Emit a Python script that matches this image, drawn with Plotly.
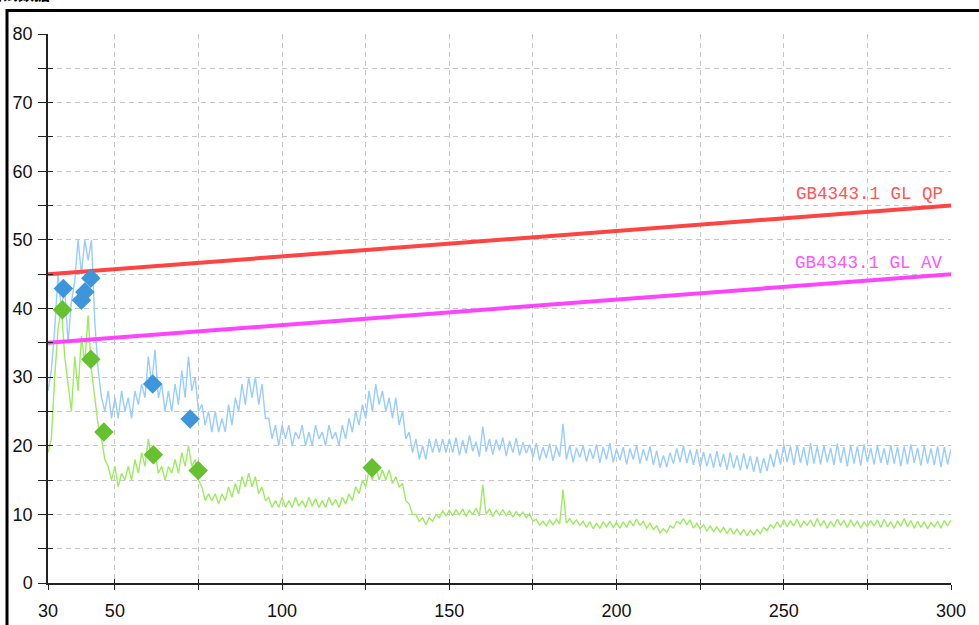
import plotly.graph_objects as go

# ---------------- data ----------------
freq = list(range(30, 301))  # MHz, 1 MHz sampling

peak_trace = [
    28, 31, 37, 45, 40, 43, 35, 41, 44, 50,
    45, 50, 47, 50, 38, 31, 27, 25, 28, 24,
    27, 24, 28, 25, 27, 24, 28, 26, 29, 27,
    33, 29, 34, 27, 29, 25, 28, 25, 29, 26,
    31, 27, 33, 28, 30, 25, 26, 23, 25, 22,
    25, 22, 24, 22, 26, 23, 27, 25, 29, 26,
    30, 27, 30, 26, 29, 24, 24, 21, 23, 20,
    23, 21, 23, 20, 22, 21, 23, 20, 22, 20,
    23, 21, 22, 20, 23, 21, 22, 20, 23, 21,
    24, 22, 25, 23, 26, 24, 28, 25, 29, 26,
    28, 25, 27, 24, 27, 23, 25, 21, 22, 19,
    21, 18, 20, 18, 21, 19, 21, 19, 21, 19, 21,
    19.0, 21.2, 18.6, 20.8, 18.9, 21.5, 19.2, 20.6, 18.4, 22.8,
    19.1, 21.0, 18.7, 20.9, 19.3, 21.2, 18.5, 20.7, 19.0, 21.1,
    18.6, 20.5, 18.9, 20.2, 18.3, 20.4, 17.9, 19.8, 18.2, 20.3,
    17.8, 19.9, 18.4, 23.2, 18.0, 20.1, 17.6, 19.7, 18.3, 20.0,
    17.7, 19.6, 18.1, 20.2, 17.5, 19.8, 18.0, 20.4, 17.6, 19.5,
    17.9, 19.8, 17.3, 19.6, 18.0, 20.1, 17.4, 19.5, 17.8, 19.9,
    17.2, 19.3, 16.8, 18.6, 16.9, 19.0, 17.4, 19.6, 17.6, 20.0,
    17.5, 19.4, 17.2, 19.5, 16.9, 19.1, 17.0, 18.9, 16.8, 19.2,
    16.9, 18.8, 16.5, 19.0, 16.7, 18.6, 16.4, 18.9, 16.6, 18.5,
    16.2, 18.4, 16.0, 18.2, 16.3, 18.8, 16.9, 19.5, 17.3, 20.2,
    17.6, 19.9, 17.2, 20.1, 17.5, 19.8, 17.1, 20.4, 17.4, 19.9,
    17.3, 20.0, 17.6, 19.7, 17.2, 20.3, 17.5, 19.8, 17.0, 20.1,
    17.4, 19.9, 17.1, 20.2, 17.6, 19.7, 17.3, 20.0, 17.5, 19.6,
    17.2, 20.1, 17.4, 19.8, 17.0, 19.9, 17.3, 20.2, 17.5, 19.7,
    17.1, 20.0, 17.4, 19.6, 17.2, 19.9, 16.9, 19.8, 17.3, 19.5,
]

avg_trace = [
    19, 21, 30, 37, 40, 33, 29, 25, 33, 28,
    36, 32, 39, 31, 27, 23, 21, 18, 17, 15,
    17, 14, 16, 15, 17, 15, 18, 16, 19, 17,
    21, 18, 19, 16, 17, 15, 17, 16, 18, 16,
    19, 17, 20, 17, 18, 15, 14, 12, 13, 12,
    13, 11.5, 13, 12, 14, 12.5, 14.5, 13, 15.5, 14,
    16, 14, 15.5, 13, 14, 12, 12.5, 11, 12, 11,
    12.5, 11, 12, 11, 12.5, 11.2, 12, 11, 12.5, 11.2,
    12.3, 11, 12, 11, 12.5, 11.3, 12.2, 11, 12.5, 11.5,
    13, 12, 14, 13, 15, 14, 16.5, 15, 17, 15,
    16.5, 15, 16.5, 14.5, 15.5, 14, 14.5, 12, 11.5, 10,
    10, 9, 9.5, 8.5, 9.5, 9, 10, 9.5, 10.5, 9.8, 10.6,
    9.8, 10.7, 9.9, 10.8, 9.7, 10.6, 10.0, 10.9, 9.8, 14.3,
    10.0, 10.8, 9.7, 10.6, 9.9, 10.7, 9.8, 10.5, 9.6, 10.4,
    9.7, 10.3, 9.5, 10.1, 9.0, 9.3, 8.4, 9.0, 8.3, 9.2,
    8.5, 9.3, 8.6, 13.6, 8.7, 9.4, 8.6, 9.2, 8.4, 9.0,
    8.1, 8.9, 7.9, 8.7, 8.0, 8.9, 8.2, 9.0, 8.1, 8.8,
    8.0, 8.9, 8.1, 9.1, 8.3, 9.3, 8.4, 9.0, 8.0, 8.7,
    7.8, 8.3, 7.3, 7.9, 7.4, 8.3, 8.0, 9.0, 8.6, 9.4,
    8.5, 9.2, 8.0, 8.7, 7.9, 8.5, 7.6, 8.3, 7.5, 8.2,
    7.4, 8.1, 7.2, 8.0, 7.1, 7.9, 7.0, 7.8, 6.9, 7.7,
    7.0, 7.8, 7.2, 8.1, 7.6, 8.5, 8.0, 8.9, 8.1, 9.2,
    8.2, 9.1, 8.3, 9.3, 8.1, 9.0, 8.4, 9.2, 8.2, 9.4,
    8.3, 9.1, 8.0, 9.0, 8.2, 9.3, 8.4, 9.1, 8.1, 9.2,
    8.3, 9.0, 8.0, 8.9, 8.2, 9.1, 8.3, 9.2, 8.1, 9.3,
    8.2, 8.9, 8.0, 9.0, 8.3, 9.4, 8.2, 9.1, 8.0, 9.0,
    8.1, 8.9, 7.9, 8.8, 8.2, 9.0, 8.0, 9.1, 8.3, 9.2,
]

qp_marker_freq = [34.6, 40.0, 41.0, 42.8, 61.3, 72.5]
qp_marker_val = [42.9, 41.2, 42.4, 44.4, 29.0, 23.9]

av_marker_freq = [34.3, 42.8, 46.7, 61.5, 74.9, 126.9]
av_marker_val = [39.8, 32.6, 22.0, 18.7, 16.4, 16.8]

limit_freq = [30, 300]
limit_qp = [45, 55]
limit_av = [35, 45]
limit_qp_label = "GB4343.1 GL QP"
limit_av_label = "GB4343.1 GL AV"

x_tickvals = [30, 50, 75, 100, 125, 150, 175, 200, 225, 250, 275, 300]
x_ticktext = ["30", "50", "", "100", "", "150", "", "200", "", "250", "", "300"]
y_tickvals = [0, 5, 10, 15, 20, 25, 30, 35, 40, 45, 50, 55, 60, 65, 70, 75, 80]
y_ticktext = ["0", "", "10", "", "20", "", "30", "", "40", "", "50", "", "60", "", "70", "", "80"]
title_text = "测试数据"

# ---------------- figure ----------------
W, H = 979, 625
ML, MR, MT, MB = 48, 28, 34, 42
PW, PH = W - ML - MR, H - MT - MB


def px_to_paper_x(px):
    return (px - ML) / PW


def px_to_paper_y(py):
    return (H - MB - py) / PH


fig = go.Figure()

fig.add_trace(go.Scatter(x=freq, y=peak_trace, mode="lines",
                         line=dict(color="#99CCFF", width=1.4), hoverinfo="skip"))
fig.add_trace(go.Scatter(x=freq, y=avg_trace, mode="lines",
                         line=dict(color="#9DEB62", width=1.4), hoverinfo="skip"))
fig.add_trace(go.Scatter(x=limit_freq, y=limit_qp, mode="lines",
                         line=dict(color="#FF4444", width=4)))
fig.add_trace(go.Scatter(x=limit_freq, y=limit_av, mode="lines",
                         line=dict(color="#FF44FF", width=4)))
fig.add_trace(go.Scatter(x=qp_marker_freq, y=qp_marker_val, mode="markers",
                         marker=dict(symbol="diamond", size=15, color="#3D95DB")))
fig.add_trace(go.Scatter(x=av_marker_freq, y=av_marker_val, mode="markers",
                         marker=dict(symbol="diamond", size=15, color="#66C12E")))
# helper trace for the inner-tick axes
fig.add_trace(go.Scatter(x=[limit_freq[0]], y=[0], xaxis="x2", yaxis="y2",
                         mode="markers", marker=dict(opacity=0), hoverinfo="skip"))

tick_font = dict(family="Liberation Sans, Arial, sans-serif", size=18, color="#111111")

fig.update_layout(
    width=W, height=H,
    margin=dict(l=ML, r=MR, t=MT, b=MB, autoexpand=False),
    paper_bgcolor="white", plot_bgcolor="white",
    showlegend=False,
    xaxis=dict(range=[30, 300], tickmode="array", tickvals=x_tickvals, ticktext=x_ticktext,
               ticks="outside", ticklen=5, tickwidth=1.3, tickcolor="#222222",
               showline=True, linecolor="#222222", linewidth=1.5,
               showgrid=True, gridcolor="#C8C8C8", griddash="5px,4px", gridwidth=1,
               zeroline=False, tickfont=tick_font, ticklabelstandoff=6, automargin=False),
    yaxis=dict(range=[0, 80], tickmode="array", tickvals=y_tickvals, ticktext=y_ticktext,
               ticks="outside", ticklen=8, tickwidth=1.3, tickcolor="#222222",
               showline=True, linecolor="#222222", linewidth=1.5,
               showgrid=True, gridcolor="#C8C8C8", griddash="5px,4px", gridwidth=1,
               zeroline=False, tickfont=tick_font, ticklabelstandoff=2, automargin=False),
    xaxis2=dict(range=[30, 300], overlaying="x", anchor="y", side="bottom",
                tickmode="array", tickvals=x_tickvals, ticktext=[""] * len(x_tickvals),
                ticks="inside", ticklen=4, tickwidth=1.3, tickcolor="#222222",
                showline=False, showgrid=False, zeroline=False, automargin=False),
    yaxis2=dict(range=[0, 80], overlaying="y", anchor="x", side="left",
                tickmode="array", tickvals=y_tickvals, ticktext=[""] * len(y_tickvals),
                ticks="inside", ticklen=5, tickwidth=1.3, tickcolor="#222222",
                showline=False, showgrid=False, zeroline=False, automargin=False),
)

mono = "Liberation Mono, DejaVu Sans Mono, monospace"
fig.add_annotation(x=300, y=56.7, xref="x", yref="y", text=limit_qp_label, showarrow=False,
                   xanchor="right", yanchor="middle", xshift=-6,
                   font=dict(family=mono, size=17.5, color="#FF5555"))
fig.add_annotation(x=300, y=46.6, xref="x", yref="y", text=limit_av_label, showarrow=False,
                   xanchor="right", yanchor="middle", xshift=-6,
                   font=dict(family=mono, size=17.5, color="#FF55FF"))

# cut-off header text at the very top (as in the reference)
fig.add_annotation(x=px_to_paper_x(52), y=px_to_paper_y(7), xref="paper", yref="paper",
                   text="<b>" + title_text + "</b>", showarrow=False,
                   xanchor="right", yanchor="bottom",
                   font=dict(family="Noto Sans CJK SC", size=16, color="#000000"))

# outer black frame
fig.add_shape(type="rect", xref="paper", yref="paper",
              x0=px_to_paper_x(7), x1=px_to_paper_x(995),
              y0=px_to_paper_y(660), y1=px_to_paper_y(10.5),
              line=dict(color="black", width=3), fillcolor="rgba(0,0,0,0)", layer="above")

fig.write_html("out.html")
